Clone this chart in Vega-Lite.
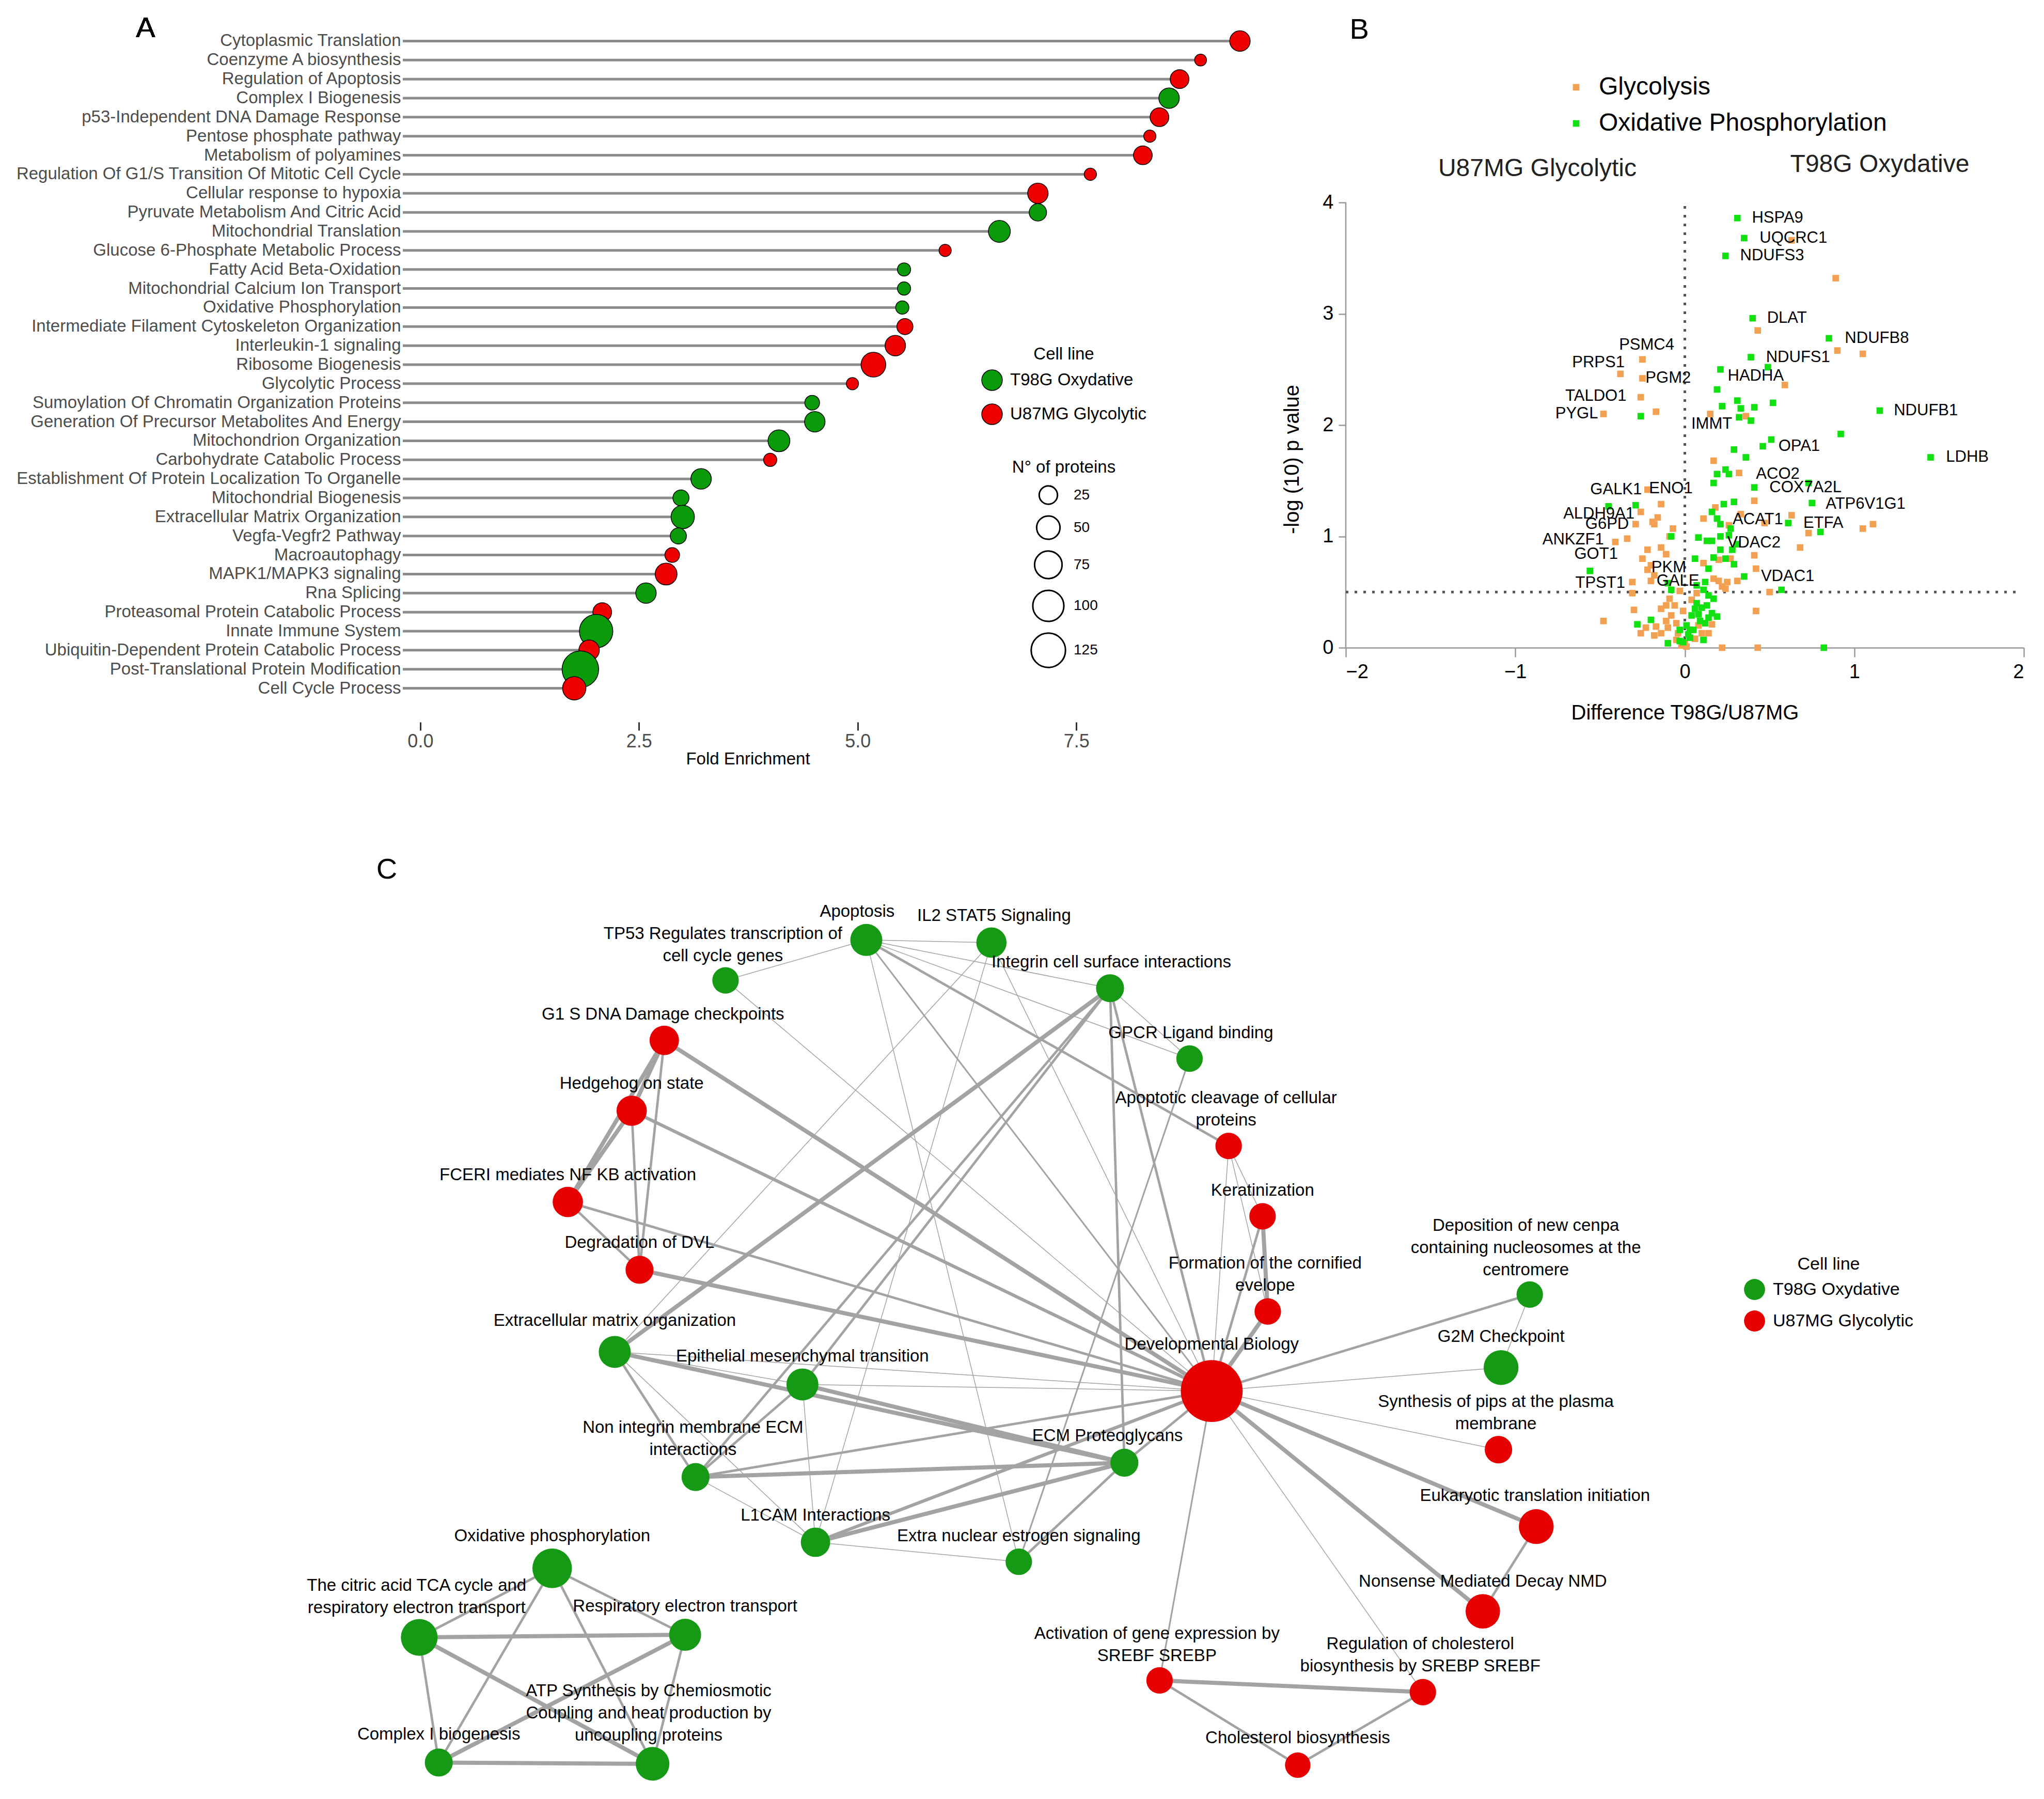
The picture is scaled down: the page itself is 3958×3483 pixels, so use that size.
{
"$schema": "https://vega.github.io/schema/vega-lite/v6.json",
"padding": {"left": 30, "top": 27, "right": 10, "bottom": 10},
"autosize": {"type": "pad"},
"config": {"font": "Liberation Sans", "view": {"stroke": null}, "legend": {"labelColor": "black", "titleColor": "black", "labelFont": "Liberation Sans", "titleFont": "Liberation Sans", "labelLimit": 1000, "titleLimit": 1000}, "axis": {"labelFont": "Liberation Sans", "titleFont": "Liberation Sans"}},
"datasets": {
"enrich": [
{"term":"Cytoplasmic Translation","fe":9.37,"n":35,"line":"U87MG Glycolytic"},
{"term":"Coenzyme A biosynthesis","fe":8.92,"n":2,"line":"U87MG Glycolytic"},
{"term":"Regulation of Apoptosis","fe":8.68,"n":27,"line":"U87MG Glycolytic"},
{"term":"Complex I Biogenesis","fe":8.56,"n":35,"line":"T98G Oxydative"},
{"term":"p53-Independent DNA Damage Response","fe":8.45,"n":27,"line":"U87MG Glycolytic"},
{"term":"Pentose phosphate pathway","fe":8.34,"n":3,"line":"U87MG Glycolytic"},
{"term":"Metabolism of polyamines","fe":8.26,"n":27,"line":"U87MG Glycolytic"},
{"term":"Regulation Of G1/S Transition Of Mitotic Cell Cycle","fe":7.66,"n":3,"line":"U87MG Glycolytic"},
{"term":"Cellular response to hypoxia","fe":7.06,"n":35,"line":"U87MG Glycolytic"},
{"term":"Pyruvate Metabolism And Citric Acid","fe":7.06,"n":21,"line":"T98G Oxydative"},
{"term":"Mitochondrial Translation","fe":6.62,"n":42,"line":"T98G Oxydative"},
{"term":"Glucose 6-Phosphate Metabolic Process","fe":6.0,"n":3,"line":"U87MG Glycolytic"},
{"term":"Fatty Acid Beta-Oxidation","fe":5.53,"n":6,"line":"T98G Oxydative"},
{"term":"Mitochondrial Calcium Ion Transport","fe":5.53,"n":6,"line":"T98G Oxydative"},
{"term":"Oxidative Phosphorylation","fe":5.51,"n":6,"line":"T98G Oxydative"},
{"term":"Intermediate Filament Cytoskeleton Organization","fe":5.54,"n":16,"line":"U87MG Glycolytic"},
{"term":"Interleukin-1 signaling","fe":5.43,"n":35,"line":"U87MG Glycolytic"},
{"term":"Ribosome Biogenesis","fe":5.18,"n":58,"line":"U87MG Glycolytic"},
{"term":"Glycolytic Process","fe":4.94,"n":3,"line":"U87MG Glycolytic"},
{"term":"Sumoylation Of Chromatin Organization Proteins","fe":4.48,"n":11,"line":"T98G Oxydative"},
{"term":"Generation Of Precursor Metabolites And Energy","fe":4.51,"n":35,"line":"T98G Oxydative"},
{"term":"Mitochondrion Organization","fe":4.10,"n":42,"line":"T98G Oxydative"},
{"term":"Carbohydrate Catabolic Process","fe":4.00,"n":6,"line":"U87MG Glycolytic"},
{"term":"Establishment Of Protein Localization To Organelle","fe":3.21,"n":35,"line":"T98G Oxydative"},
{"term":"Mitochondrial Biogenesis","fe":2.98,"n":16,"line":"T98G Oxydative"},
{"term":"Extracellular Matrix Organization","fe":3.0,"n":50,"line":"T98G Oxydative"},
{"term":"Vegfa-Vegfr2 Pathway","fe":2.95,"n":16,"line":"T98G Oxydative"},
{"term":"Macroautophagy","fe":2.88,"n":11,"line":"U87MG Glycolytic"},
{"term":"MAPK1/MAPK3 signaling","fe":2.81,"n":42,"line":"U87MG Glycolytic"},
{"term":"Rna Splicing","fe":2.58,"n":35,"line":"T98G Oxydative"},
{"term":"Proteasomal Protein Catabolic Process","fe":2.08,"n":27,"line":"U87MG Glycolytic"},
{"term":"Innate Immune System","fe":2.01,"n":118,"line":"T98G Oxydative"},
{"term":"Ubiquitin-Dependent Protein Catabolic Process","fe":1.93,"n":35,"line":"U87MG Glycolytic"},
{"term":"Post-Translational Protein Modification","fe":1.83,"n":144,"line":"T98G Oxydative"},
{"term":"Cell Cycle Process","fe":1.76,"n":50,"line":"U87MG Glycolytic"}
],
"volcano": [
{"dx":0.63,"py":3.66,"p":"Glycolysis"},{"dx":0.89,"py":3.32,"p":"Glycolysis"},{"dx":0.43,"py":2.85,"p":"Glycolysis"},{"dx":0.90,"py":2.67,"p":"Glycolysis"},{"dx":1.05,"py":2.64,"p":"Glycolysis"},{"dx":0.59,"py":2.36,"p":"Glycolysis"},{"dx":0.15,"py":2.10,"p":"Glycolysis"},{"dx":0.36,"py":2.08,"p":"Glycolysis"},{"dx":0.17,"py":1.68,"p":"Glycolysis"},{"dx":0.32,"py":1.57,"p":"Glycolysis"},{"dx":0.41,"py":1.32,"p":"Glycolysis"},{"dx":0.18,"py":1.26,"p":"Glycolysis"},{"dx":0.33,"py":1.20,"p":"Glycolysis"},{"dx":0.63,"py":1.19,"p":"Glycolysis"},{"dx":0.11,"py":1.16,"p":"Glycolysis"},{"dx":0.47,"py":1.12,"p":"Glycolysis"},{"dx":0.26,"py":1.10,"p":"Glycolysis"},{"dx":0.73,"py":1.03,"p":"Glycolysis"},{"dx":1.05,"py":1.07,"p":"Glycolysis"},{"dx":1.11,"py":1.11,"p":"Glycolysis"},{"dx":0.68,"py":0.90,"p":"Glycolysis"},{"dx":0.41,"py":0.83,"p":"Glycolysis"},{"dx":0.11,"py":0.76,"p":"Glycolysis"},{"dx":0.20,"py":0.79,"p":"Glycolysis"},{"dx":0.27,"py":0.80,"p":"Glycolysis"},{"dx":0.42,"py":0.71,"p":"Glycolysis"},{"dx":0.31,"py":0.60,"p":"Glycolysis"},{"dx":0.25,"py":0.59,"p":"Glycolysis"},{"dx":0.22,"py":0.55,"p":"Glycolysis"},{"dx":0.50,"py":0.50,"p":"Glycolysis"},{"dx":0.17,"py":0.62,"p":"Glycolysis"},{"dx":0.42,"py":0.33,"p":"Glycolysis"},{"dx":0.43,"py":0.0,"p":"Glycolysis"},{"dx":0.22,"py":0.0,"p":"Glycolysis"},{"dx":0.16,"py":0.21,"p":"Glycolysis"},{"dx":0.10,"py":0.13,"p":"Glycolysis"},{"dx":0.0,"py":0.04,"p":"Glycolysis"},{"dx":-0.02,"py":0.02,"p":"Glycolysis"},{"dx":0.01,"py":0.01,"p":"Glycolysis"},
{"dx":-0.25,"py":2.59,"p":"Glycolysis"},{"dx":-0.38,"py":2.46,"p":"Glycolysis"},{"dx":-0.25,"py":2.42,"p":"Glycolysis"},{"dx":-0.26,"py":2.25,"p":"Glycolysis"},{"dx":-0.48,"py":2.10,"p":"Glycolysis"},{"dx":-0.17,"py":2.12,"p":"Glycolysis"},{"dx":-0.22,"py":1.42,"p":"Glycolysis"},{"dx":-0.26,"py":1.22,"p":"Glycolysis"},{"dx":-0.14,"py":1.29,"p":"Glycolysis"},{"dx":-0.29,"py":1.11,"p":"Glycolysis"},{"dx":-0.19,"py":1.13,"p":"Glycolysis"},{"dx":-0.16,"py":1.17,"p":"Glycolysis"},{"dx":-0.07,"py":1.07,"p":"Glycolysis"},{"dx":-0.09,"py":1.00,"p":"Glycolysis"},{"dx":-0.41,"py":0.95,"p":"Glycolysis"},{"dx":-0.34,"py":0.98,"p":"Glycolysis"},{"dx":-0.22,"py":0.88,"p":"Glycolysis"},{"dx":-0.14,"py":0.90,"p":"Glycolysis"},{"dx":-0.11,"py":0.84,"p":"Glycolysis"},{"dx":-0.25,"py":0.80,"p":"Glycolysis"},{"dx":-0.20,"py":0.74,"p":"Glycolysis"},{"dx":-0.22,"py":0.70,"p":"Glycolysis"},{"dx":-0.18,"py":0.65,"p":"Glycolysis"},{"dx":-0.31,"py":0.59,"p":"Glycolysis"},{"dx":-0.31,"py":0.49,"p":"Glycolysis"},{"dx":-0.20,"py":0.60,"p":"Glycolysis"},{"dx":-0.30,"py":0.34,"p":"Glycolysis"},{"dx":-0.48,"py":0.24,"p":"Glycolysis"},{"dx":-0.17,"py":0.19,"p":"Glycolysis"},{"dx":-0.14,"py":0.13,"p":"Glycolysis"},{"dx":-0.18,"py":0.11,"p":"Glycolysis"},{"dx":-0.10,"py":0.18,"p":"Glycolysis"},{"dx":-0.08,"py":0.29,"p":"Glycolysis"},{"dx":-0.05,"py":0.22,"p":"Glycolysis"},{"dx":-0.06,"py":0.38,"p":"Glycolysis"},{"dx":-0.09,"py":0.44,"p":"Glycolysis"},{"dx":-0.04,"py":0.13,"p":"Glycolysis"},{"dx":-0.05,"py":0.07,"p":"Glycolysis"},{"dx":-0.26,"py":0.13,"p":"Glycolysis"},{"dx":-0.23,"py":0.18,"p":"Glycolysis"},{"dx":-0.11,"py":0.24,"p":"Glycolysis"},{"dx":-0.01,"py":0.33,"p":"Glycolysis"},{"dx":-0.03,"py":0.51,"p":"Glycolysis"},{"dx":0.04,"py":0.43,"p":"Glycolysis"},{"dx":0.07,"py":0.49,"p":"Glycolysis"},{"dx":0.20,"py":0.60,"p":"Glycolysis"},{"dx":0.24,"py":0.53,"p":"Glycolysis"},{"dx":0.08,"py":0.20,"p":"Glycolysis"},{"dx":0.14,"py":0.13,"p":"Glycolysis"},{"dx":0.06,"py":0.08,"p":"Glycolysis"},{"dx":-0.18,"py":1.11,"p":"Glycolysis"},{"dx":-0.11,"py":0.38,"p":"Glycolysis"},{"dx":-0.14,"py":0.35,"p":"Glycolysis"},
{"dx":0.31,"py":3.86,"p":"Oxidative Phosphorylation"},{"dx":0.35,"py":3.68,"p":"Oxidative Phosphorylation"},{"dx":0.24,"py":3.52,"p":"Oxidative Phosphorylation"},{"dx":0.40,"py":2.96,"p":"Oxidative Phosphorylation"},{"dx":0.85,"py":2.78,"p":"Oxidative Phosphorylation"},{"dx":0.39,"py":2.61,"p":"Oxidative Phosphorylation"},{"dx":0.49,"py":2.52,"p":"Oxidative Phosphorylation"},{"dx":0.21,"py":2.50,"p":"Oxidative Phosphorylation"},{"dx":0.19,"py":2.32,"p":"Oxidative Phosphorylation"},{"dx":0.31,"py":2.22,"p":"Oxidative Phosphorylation"},{"dx":0.52,"py":2.20,"p":"Oxidative Phosphorylation"},{"dx":0.22,"py":2.17,"p":"Oxidative Phosphorylation"},{"dx":0.33,"py":2.15,"p":"Oxidative Phosphorylation"},{"dx":0.41,"py":2.16,"p":"Oxidative Phosphorylation"},{"dx":1.15,"py":2.13,"p":"Oxidative Phosphorylation"},{"dx":0.32,"py":2.07,"p":"Oxidative Phosphorylation"},{"dx":0.39,"py":2.04,"p":"Oxidative Phosphorylation"},{"dx":0.92,"py":1.92,"p":"Oxidative Phosphorylation"},{"dx":0.51,"py":1.87,"p":"Oxidative Phosphorylation"},{"dx":0.46,"py":1.81,"p":"Oxidative Phosphorylation"},{"dx":0.29,"py":1.78,"p":"Oxidative Phosphorylation"},{"dx":0.36,"py":1.71,"p":"Oxidative Phosphorylation"},{"dx":1.45,"py":1.71,"p":"Oxidative Phosphorylation"},{"dx":0.19,"py":1.56,"p":"Oxidative Phosphorylation"},{"dx":0.24,"py":1.60,"p":"Oxidative Phosphorylation"},{"dx":0.26,"py":1.56,"p":"Oxidative Phosphorylation"},{"dx":0.17,"py":1.48,"p":"Oxidative Phosphorylation"},{"dx":0.41,"py":1.44,"p":"Oxidative Phosphorylation"},{"dx":0.73,"py":1.48,"p":"Oxidative Phosphorylation"},{"dx":0.75,"py":1.30,"p":"Oxidative Phosphorylation"},{"dx":0.29,"py":1.31,"p":"Oxidative Phosphorylation"},{"dx":0.23,"py":1.29,"p":"Oxidative Phosphorylation"},{"dx":0.16,"py":1.22,"p":"Oxidative Phosphorylation"},{"dx":0.19,"py":1.16,"p":"Oxidative Phosphorylation"},{"dx":0.21,"py":1.11,"p":"Oxidative Phosphorylation"},{"dx":0.27,"py":1.07,"p":"Oxidative Phosphorylation"},{"dx":0.61,"py":1.12,"p":"Oxidative Phosphorylation"},{"dx":0.80,"py":1.04,"p":"Oxidative Phosphorylation"},{"dx":0.08,"py":0.99,"p":"Oxidative Phosphorylation"},{"dx":0.13,"py":0.96,"p":"Oxidative Phosphorylation"},{"dx":0.16,"py":0.96,"p":"Oxidative Phosphorylation"},{"dx":0.21,"py":1.00,"p":"Oxidative Phosphorylation"},{"dx":0.26,"py":1.01,"p":"Oxidative Phosphorylation"},{"dx":0.31,"py":0.93,"p":"Oxidative Phosphorylation"},{"dx":0.28,"py":0.88,"p":"Oxidative Phosphorylation"},{"dx":0.21,"py":0.88,"p":"Oxidative Phosphorylation"},{"dx":0.06,"py":0.80,"p":"Oxidative Phosphorylation"},{"dx":0.17,"py":0.81,"p":"Oxidative Phosphorylation"},{"dx":0.24,"py":0.80,"p":"Oxidative Phosphorylation"},{"dx":0.29,"py":0.75,"p":"Oxidative Phosphorylation"},{"dx":0.14,"py":0.71,"p":"Oxidative Phosphorylation"},{"dx":0.35,"py":0.64,"p":"Oxidative Phosphorylation"},{"dx":0.57,"py":0.52,"p":"Oxidative Phosphorylation"},{"dx":0.12,"py":0.59,"p":"Oxidative Phosphorylation"},{"dx":0.07,"py":0.56,"p":"Oxidative Phosphorylation"},{"dx":0.14,"py":0.47,"p":"Oxidative Phosphorylation"},{"dx":0.17,"py":0.44,"p":"Oxidative Phosphorylation"},{"dx":0.82,"py":0.0,"p":"Oxidative Phosphorylation"},{"dx":0.07,"py":0.40,"p":"Oxidative Phosphorylation"},{"dx":0.10,"py":0.36,"p":"Oxidative Phosphorylation"},{"dx":0.16,"py":0.31,"p":"Oxidative Phosphorylation"},{"dx":0.04,"py":0.29,"p":"Oxidative Phosphorylation"},{"dx":0.09,"py":0.24,"p":"Oxidative Phosphorylation"},{"dx":0.12,"py":0.22,"p":"Oxidative Phosphorylation"},{"dx":0.01,"py":0.20,"p":"Oxidative Phosphorylation"},{"dx":0.05,"py":0.16,"p":"Oxidative Phosphorylation"},{"dx":0.03,"py":0.09,"p":"Oxidative Phosphorylation"},{"dx":-0.03,"py":0.06,"p":"Oxidative Phosphorylation"},{"dx":0.06,"py":0.35,"p":"Oxidative Phosphorylation"},{"dx":-0.26,"py":2.08,"p":"Oxidative Phosphorylation"},{"dx":-0.45,"py":1.27,"p":"Oxidative Phosphorylation"},{"dx":-0.29,"py":1.28,"p":"Oxidative Phosphorylation"},{"dx":-0.08,"py":1.00,"p":"Oxidative Phosphorylation"},{"dx":-0.56,"py":0.69,"p":"Oxidative Phosphorylation"},{"dx":-0.10,"py":0.58,"p":"Oxidative Phosphorylation"},{"dx":-0.08,"py":0.52,"p":"Oxidative Phosphorylation"},{"dx":-0.28,"py":0.21,"p":"Oxidative Phosphorylation"},{"dx":-0.20,"py":0.25,"p":"Oxidative Phosphorylation"},{"dx":-0.10,"py":0.04,"p":"Oxidative Phosphorylation"},{"dx":-0.03,"py":0.16,"p":"Oxidative Phosphorylation"},{"dx":0.11,"py":0.07,"p":"Oxidative Phosphorylation"},{"dx":0.03,"py":0.16,"p":"Oxidative Phosphorylation"},{"dx":0.11,"py":0.52,"p":"Oxidative Phosphorylation"},{"dx":0.13,"py":0.38,"p":"Oxidative Phosphorylation"},{"dx":0.08,"py":0.30,"p":"Oxidative Phosphorylation"},{"dx":0.02,"py":0.12,"p":"Oxidative Phosphorylation"},{"dx":-0.01,"py":0.05,"p":"Oxidative Phosphorylation"},{"dx":0.19,"py":0.28,"p":"Oxidative Phosphorylation"},{"dx":0.14,"py":0.27,"p":"Oxidative Phosphorylation"}
],
"genes": [
{"g":"HSPA9","x":0.396,"y":3.86},{"g":"UQCRC1","x":0.441,"y":3.68},{"g":"NDUFS3","x":0.326,"y":3.52},{"g":"DLAT","x":0.485,"y":2.96},{"g":"NDUFB8","x":0.944,"y":2.78},{"g":"NDUFS1","x":0.479,"y":2.61},{"g":"HADHA","x":0.253,"y":2.44},{"g":"NDUFB1","x":1.233,"y":2.13},{"g":"IMMT","x":0.038,"y":2.01},{"g":"OPA1","x":0.552,"y":1.81},{"g":"LDHB","x":1.541,"y":1.71},{"g":"ACO2","x":0.42,"y":1.56},{"g":"COX7A2L","x":0.499,"y":1.44},{"g":"ATP6V1G1","x":0.831,"y":1.29},{"g":"ACAT1","x":0.282,"y":1.15},{"g":"ETFA","x":0.699,"y":1.12},{"g":"VDAC2","x":0.25,"y":0.94},{"g":"VDAC1","x":0.449,"y":0.64},{"g":"PSMC4","x":-0.388,"y":2.72},{"g":"PRPS1","x":-0.665,"y":2.56},{"g":"PGM2","x":-0.232,"y":2.42},{"g":"TALDO1","x":-0.705,"y":2.26},{"g":"PYGL","x":-0.764,"y":2.10},{"g":"GALK1","x":-0.558,"y":1.42},{"g":"ENO1","x":-0.211,"y":1.43},{"g":"ALDH9A1","x":-0.717,"y":1.20},{"g":"G6PD","x":-0.587,"y":1.11},{"g":"ANKZF1","x":-0.84,"y":0.97},{"g":"GOT1","x":-0.652,"y":0.84},{"g":"PKM","x":-0.197,"y":0.72},{"g":"GALE","x":-0.167,"y":0.60},{"g":"TPST1","x":-0.646,"y":0.58}
],
"nodes": [
{"id":"apop","x":665,"y":721,"n":19,"line":"T98G Oxydative","label":["Apoptosis"],"lx":658,"ly":706},
{"id":"il2","x":761,"y":723,"n":17,"line":"T98G Oxydative","label":["IL2 STAT5 Signaling"],"lx":763,"ly":709},
{"id":"tp53","x":557,"y":752,"n":13,"line":"T98G Oxydative","label":["TP53 Regulates transcription of","cell cycle genes"],"lx":555,"ly":723},
{"id":"integrin","x":852,"y":758,"n":14.5,"line":"T98G Oxydative","label":["Integrin cell surface interactions"],"lx":853,"ly":745},
{"id":"gpcr","x":913,"y":812,"n":13,"line":"T98G Oxydative","label":["GPCR Ligand binding"],"lx":914,"ly":799},
{"id":"g1s","x":510,"y":798,"n":16,"line":"U87MG Glycolytic","label":["G1 S DNA Damage checkpoints"],"lx":509,"ly":785},
{"id":"hedge","x":485,"y":852,"n":17,"line":"U87MG Glycolytic","label":["Hedgehog on state"],"lx":485,"ly":838},
{"id":"cleav","x":943,"y":879,"n":13,"line":"U87MG Glycolytic","label":["Apoptotic cleavage of cellular","proteins"],"lx":941,"ly":849},
{"id":"fceri","x":436,"y":922,"n":17,"line":"U87MG Glycolytic","label":["FCERI mediates NF KB activation"],"lx":436,"ly":908},
{"id":"kerat","x":969,"y":933,"n":13,"line":"U87MG Glycolytic","label":["Keratinization"],"lx":969,"ly":920},
{"id":"dvl","x":491,"y":974,"n":14.5,"line":"U87MG Glycolytic","label":["Degradation of DVL"],"lx":491,"ly":960},
{"id":"corn","x":973,"y":1006,"n":13,"line":"U87MG Glycolytic","label":["Formation  of the cornified","evelope"],"lx":971,"ly":976},
{"id":"cenpa","x":1174,"y":993,"n":13,"line":"T98G Oxydative","label":["Deposition of new cenpa","containing nucleosomes at the","centromere"],"lx":1171,"ly":947},
{"id":"ecmorg","x":472,"y":1037,"n":19,"line":"T98G Oxydative","label":["Extracellular matrix organization"],"lx":472,"ly":1020},
{"id":"g2m","x":1152,"y":1049,"n":22.5,"line":"T98G Oxydative","label":["G2M Checkpoint"],"lx":1152,"ly":1032},
{"id":"emt","x":616,"y":1062,"n":19,"line":"T98G Oxydative","label":["Epithelial mesenchymal transition"],"lx":616,"ly":1047},
{"id":"pips","x":1150,"y":1112,"n":14,"line":"U87MG Glycolytic","label":["Synthesis of pips at the plasma","membrane"],"lx":1148,"ly":1082},
{"id":"nonint","x":534,"y":1133,"n":14.5,"line":"T98G Oxydative","label":["Non integrin membrane ECM","interactions"],"lx":532,"ly":1102},
{"id":"proteo","x":863,"y":1122,"n":14.5,"line":"T98G Oxydative","label":["ECM Proteoglycans"],"lx":850,"ly":1108},
{"id":"l1cam","x":626,"y":1183,"n":16,"line":"T98G Oxydative","label":["L1CAM Interactions"],"lx":626,"ly":1169},
{"id":"extra","x":782,"y":1198,"n":13,"line":"T98G Oxydative","label":["Extra nuclear estrogen signaling"],"lx":782,"ly":1185},
{"id":"euk","x":1179,"y":1171,"n":22.5,"line":"U87MG Glycolytic","label":["Eukaryotic translation initiation"],"lx":1178,"ly":1154},
{"id":"ox","x":424,"y":1203,"n":29,"line":"T98G Oxydative","label":["Oxidative phosphorylation"],"lx":424,"ly":1185},
{"id":"tca","x":322,"y":1256,"n":25,"line":"T98G Oxydative","label":["The citric acid TCA cycle and","respiratory electron transport"],"lx":320,"ly":1223},
{"id":"resp","x":526,"y":1254,"n":19,"line":"T98G Oxydative","label":["Respiratory electron transport"],"lx":526,"ly":1239},
{"id":"nmd","x":1138,"y":1236,"n":22,"line":"U87MG Glycolytic","label":["Nonsense Mediated Decay NMD"],"lx":1138,"ly":1220},
{"id":"act","x":890,"y":1289,"n":13,"line":"U87MG Glycolytic","label":["Activation of gene expression by","SREBF SREBP"],"lx":888,"ly":1260},
{"id":"regchol","x":1092,"y":1298,"n":13,"line":"U87MG Glycolytic","label":["Regulation of cholesterol","biosynthesis by SREBP SREBF"],"lx":1090,"ly":1268},
{"id":"atp","x":501,"y":1353,"n":21,"line":"T98G Oxydative","label":["ATP Synthesis by Chemiosmotic","Coupling and heat production by","uncoupling proteins"],"lx":498,"ly":1304},
{"id":"cplx","x":337,"y":1352,"n":14.5,"line":"T98G Oxydative","label":["Complex I biogenesis"],"lx":337,"ly":1337},
{"id":"chol","x":996,"y":1354,"n":12,"line":"U87MG Glycolytic","label":["Cholesterol biosynthesis"],"lx":996,"ly":1340},
{"id":"dev","x":930,"y":1067,"n":71,"line":"U87MG Glycolytic","label":["Developmental Biology"],"lx":930,"ly":1038}
],
"edges": [
{"s":"apop","t":"il2","w":1},{"s":"apop","t":"tp53","w":1},{"s":"apop","t":"integrin","w":1},{"s":"apop","t":"gpcr","w":1},{"s":"apop","t":"cleav","w":2},{"s":"apop","t":"dev","w":1.5},{"s":"apop","t":"extra","w":1},
{"s":"il2","t":"dev","w":1},{"s":"il2","t":"l1cam","w":1},{"s":"il2","t":"ecmorg","w":1},{"s":"tp53","t":"dev","w":1},
{"s":"g1s","t":"hedge","w":3},{"s":"g1s","t":"fceri","w":3},{"s":"g1s","t":"dvl","w":2},{"s":"g1s","t":"dev","w":3},
{"s":"hedge","t":"fceri","w":3},{"s":"hedge","t":"dvl","w":2},{"s":"hedge","t":"dev","w":2.5},
{"s":"fceri","t":"dvl","w":2},{"s":"fceri","t":"dev","w":2},{"s":"dvl","t":"dev","w":3},
{"s":"ecmorg","t":"integrin","w":3},{"s":"ecmorg","t":"emt","w":1},{"s":"ecmorg","t":"proteo","w":3},{"s":"ecmorg","t":"nonint","w":2},{"s":"ecmorg","t":"l1cam","w":1},{"s":"ecmorg","t":"dev","w":1},
{"s":"emt","t":"integrin","w":2},{"s":"emt","t":"proteo","w":3},{"s":"emt","t":"dev","w":1},{"s":"emt","t":"l1cam","w":1},{"s":"emt","t":"nonint","w":2},
{"s":"nonint","t":"integrin","w":2},{"s":"nonint","t":"proteo","w":3},{"s":"nonint","t":"dev","w":2},{"s":"nonint","t":"l1cam","w":1},
{"s":"l1cam","t":"proteo","w":3},{"s":"l1cam","t":"dev","w":2.5},{"s":"l1cam","t":"extra","w":1},
{"s":"extra","t":"proteo","w":2},{"s":"extra","t":"gpcr","w":1.5},
{"s":"proteo","t":"integrin","w":2},{"s":"proteo","t":"dev","w":2},{"s":"integrin","t":"dev","w":2},{"s":"integrin","t":"gpcr","w":1},
{"s":"cleav","t":"dev","w":1},{"s":"cleav","t":"kerat","w":1},{"s":"cleav","t":"corn","w":1},{"s":"kerat","t":"corn","w":3},{"s":"kerat","t":"dev","w":2},{"s":"corn","t":"dev","w":3},
{"s":"dev","t":"cenpa","w":2},{"s":"dev","t":"g2m","w":1},{"s":"dev","t":"pips","w":1},{"s":"dev","t":"euk","w":3},{"s":"dev","t":"nmd","w":3},{"s":"dev","t":"act","w":1.5},{"s":"dev","t":"regchol","w":1},
{"s":"cenpa","t":"g2m","w":1},{"s":"euk","t":"nmd","w":2},{"s":"act","t":"regchol","w":3},{"s":"act","t":"chol","w":2},{"s":"regchol","t":"chol","w":2},
{"s":"ox","t":"tca","w":2},{"s":"ox","t":"resp","w":2},{"s":"ox","t":"cplx","w":2},{"s":"ox","t":"atp","w":2},{"s":"tca","t":"resp","w":3},{"s":"tca","t":"cplx","w":2},{"s":"tca","t":"atp","w":3},{"s":"resp","t":"cplx","w":3},{"s":"resp","t":"atp","w":2},{"s":"cplx","t":"atp","w":3}
]
},
"columns": 2,
"spacing": {"row": 300, "column": 166},
"bounds": "flush",
"align": "each",
"resolve": {"scale": {"color": "independent", "size": "independent"}, "legend": {"color": "independent", "size": "independent"}},
"concat": [
{
"width": 1660, "height": 1290,
"data": {"name": "enrich"},
"layer": [
{"mark": {"type": "rule", "strokeWidth": 5, "color": "#8c8c8c"},
 "encoding": {
  "y": {"field": "term", "type": "nominal", "sort": null, "title": null, "scale": {"paddingInner": 0, "paddingOuter": 0},
        "axis": {"domain": false, "ticks": false, "labelFontSize": 33, "labelColor": "#4d4d4d", "labelPadding": 4, "labelLimit": 1200}},
  "x": {"field": "fe", "type": "quantitative", "scale": {"domain": [-0.2, 9.6], "nice": false, "zero": false},
        "axis": {"values": [0, 2.5, 5, 7.5], "format": ".1f", "domain": false, "grid": false, "tickSize": 16, "tickWidth": 3, "tickColor": "#333333", "offset": 47, "labelFontSize": 36, "labelColor": "#4d4d4d", "labelPadding": 4, "title": "Fold Enrichment", "titleFontSize": 33, "titleFontWeight": "normal", "titleColor": "black", "titlePadding": 0, "titleX": 668}},
  "x2": {"datum": -0.2}
 }},
{"mark": {"type": "circle", "opacity": 1, "stroke": "black", "strokeWidth": 1.5},
 "encoding": {
  "y": {"field": "term", "type": "nominal", "sort": null, "title": null},
  "x": {"field": "fe", "type": "quantitative", "title": "Fold Enrichment"},
  "color": {"field": "line", "type": "nominal", "scale": {"domain": ["T98G Oxydative", "U87MG Glycolytic"], "range": ["#0a9a0a", "#ee0000"]},
            "legend": {"orient": "none", "legendX": 1120, "legendY": 609, "title": "Cell line", "titleAnchor": "middle", "titleFontSize": 33, "titleFontWeight": "normal", "titlePadding": 12, "labelFontSize": 33, "symbolSize": 1590, "rowPadding": 20, "labelOffset": 14,
                       "encode": {"symbols": {"update": {"stroke": {"value": "black"}, "strokeWidth": {"value": 1.5}}}}}},
  "size": {"field": "n", "type": "quantitative", "scale": {"domain": [0, 150], "range": [467, 5207]},
           "legend": {"orient": "none", "legendX": 1180, "legendY": 828, "title": "N° of proteins", "values": [25, 50, 75, 100, 125], "titleAnchor": "middle", "titleFontSize": 33, "titleFontWeight": "normal", "titlePadding": 17, "labelFontSize": 28, "rowPadding": 9, "labelOffset": 14,
                      "symbolFillColor": "white", "symbolStrokeColor": "black", "symbolStrokeWidth": 3,
                      "encode": {"symbols": {"update": {"fillOpacity": {"value": 0}, "stroke": {"value": "black"}, "strokeWidth": {"value": 3}}}}}}
 }},
{"mark": {"type": "text", "text": "A", "fontSize": 56, "color": "black", "dy": -24, "align": "center", "baseline": "middle"},
 "encoding": {"x": {"datum": -3.14, "type": "quantitative"}, "y": {"datum": "Cytoplasmic Translation", "type": "nominal"}}}
]
},
{
"width": 1313, "height": 1193,
"layer": [
{"data": {"values": [{"x": -2, "y": 0, "y2": 4}]},
 "mark": {"type": "rule", "color": "#999999", "strokeWidth": 2.5},
 "encoding": {"x": {"field": "x", "type": "quantitative"}, "y": {"field": "y", "type": "quantitative"}, "y2": {"field": "y2"}}},
{"data": {"values": [{"x": 0, "y": 0, "y2": 4}]},
 "mark": {"type": "rule", "color": "#555555", "strokeWidth": 5, "strokeDash": [5, 12]},
 "encoding": {"x": {"field": "x", "type": "quantitative"}, "y": {"field": "y", "type": "quantitative"}, "y2": {"field": "y2"}}},
{"data": {"values": [{"x": -2, "x2": 1.98, "y": 0.5}]},
 "mark": {"type": "rule", "color": "#555555", "strokeWidth": 5, "strokeDash": [5, 12]},
 "encoding": {"y": {"field": "y", "type": "quantitative"}, "x": {"field": "x", "type": "quantitative"}, "x2": {"field": "x2"}}},
{"data": {"name": "volcano"},
 "mark": {"type": "square", "size": 160, "opacity": 1},
 "encoding": {
  "x": {"field": "dx", "type": "quantitative", "scale": {"domain": [-2, 2], "nice": false, "zero": false},
        "axis": {"values": [-2, -1, 0, 1, 2], "format": "d", "domain": true, "domainColor": "#999999", "domainWidth": 2.5, "tickColor": "#999999", "tickSize": 18, "tickWidth": 2.5, "grid": false, "labelFontSize": 38, "labelColor": "black", "labelPadding": 10, "title": "Difference T98G/U87MG", "titleFontSize": 40, "titleFontWeight": "normal", "titleColor": "black", "titlePadding": 40}},
  "y": {"field": "py", "type": "quantitative", "scale": {"domain": [0, 5.536], "nice": false, "zero": false},
        "axis": {"values": [0, 1, 2, 3, 4], "format": "d", "domain": false, "tickColor": "#999999", "tickSize": 14, "tickWidth": 2.5, "grid": false, "labelFontSize": 38, "labelColor": "black", "labelPadding": 10, "title": "-log (10) p value", "titleFontSize": 40, "titleFontWeight": "normal", "titleColor": "black", "titlePadding": 38, "titleY": 828}},
  "color": {"field": "p", "type": "nominal", "scale": {"domain": ["Glycolysis", "Oxidative Phosphorylation"], "range": ["#f2a052", "#11e011"]},
            "legend": {"orient": "none", "legendX": 422, "legendY": 84, "title": null, "labelFontSize": 48, "symbolType": "square", "symbolSize": 160, "rowPadding": 22, "labelOffset": 20}}
 }},
{"data": {"name": "genes"},
 "mark": {"type": "text", "fontSize": 31, "align": "left", "baseline": "middle", "color": "black"},
 "encoding": {"x": {"field": "x", "type": "quantitative"}, "y": {"field": "y", "type": "quantitative"}, "text": {"field": "g", "type": "nominal"}}},
{"data": {"values": [{"t": "U87MG Glycolytic", "x": -0.87, "y": 4.30}, {"t": "T98G Oxydative", "x": 1.15, "y": 4.34}]},
 "mark": {"type": "text", "fontSize": 48, "align": "center", "baseline": "middle", "color": "#222222"},
 "encoding": {"x": {"field": "x", "type": "quantitative"}, "y": {"field": "y", "type": "quantitative"}, "text": {"field": "t", "type": "nominal"}}},
{"data": {"values": [{"t": "B", "x": -1.92, "y": 5.55}]},
 "mark": {"type": "text", "fontSize": 56, "align": "center", "baseline": "middle", "color": "black"},
 "encoding": {"x": {"field": "x", "type": "quantitative"}, "y": {"field": "y", "type": "quantitative"}, "text": {"field": "t", "type": "nominal"}}}
]
},
{
"width": 1660, "height": 1800,
"layer": [
{"data": {"name": "edges"},
 "transform": [
  {"lookup": "s", "from": {"data": {"name": "nodes"}, "key": "id", "fields": ["x", "y"]}, "as": ["sx", "sy"]},
  {"lookup": "t", "from": {"data": {"name": "nodes"}, "key": "id", "fields": ["x", "y"]}, "as": ["tx", "ty"]}
 ],
 "mark": {"type": "rule", "color": "#a3a3a3"},
 "encoding": {
  "x": {"field": "sx", "type": "quantitative", "scale": {"domain": [309.4, 967.1], "nice": false, "zero": false}, "axis": null},
  "y": {"field": "sy", "type": "quantitative", "scale": {"domain": [654.1, 1367.3], "nice": false, "zero": false, "reverse": true}, "axis": null},
  "x2": {"field": "tx"}, "y2": {"field": "ty"},
  "strokeWidth": {"field": "w", "type": "quantitative", "scale": {"domain": [1, 3], "range": [1.5, 8]}, "legend": null}
 }},
{"data": {"name": "nodes"},
 "mark": {"type": "circle", "opacity": 1},
 "encoding": {
  "x": {"field": "x", "type": "quantitative", "axis": null},
  "y": {"field": "y", "type": "quantitative", "axis": null},
  "size": {"field": "n", "type": "quantitative", "scale": {"domain": [0, 75], "range": [0, 15175]}, "legend": null},
  "color": {"field": "line", "type": "nominal", "scale": {"domain": ["T98G Oxydative", "U87MG Glycolytic"], "range": ["#169a16", "#e60000"]},
            "legend": {"orient": "none", "legendX": 2596, "legendY": 780, "title": "Cell line", "titleAnchor": "middle", "titleFontSize": 34, "titleFontWeight": "normal", "titlePadding": 10, "labelFontSize": 34, "symbolSize": 1662, "rowPadding": 19, "labelOffset": 14}}
 }},
{"data": {"name": "nodes"},
 "mark": {"type": "text", "fontSize": 33, "lineHeight": 43, "align": "center", "baseline": "bottom", "color": "black"},
 "encoding": {"x": {"field": "lx", "type": "quantitative"}, "y": {"field": "ly", "type": "quantitative"}, "text": {"field": "label", "type": "nominal"}}},
{"data": {"values": [{"t": "C", "x": 297.1, "y": 667}]},
 "mark": {"type": "text", "fontSize": 56, "color": "black", "align": "center", "baseline": "middle"},
 "encoding": {"x": {"field": "x", "type": "quantitative"}, "y": {"field": "y", "type": "quantitative"}, "text": {"field": "t", "type": "nominal"}}}
]
}
]
}
